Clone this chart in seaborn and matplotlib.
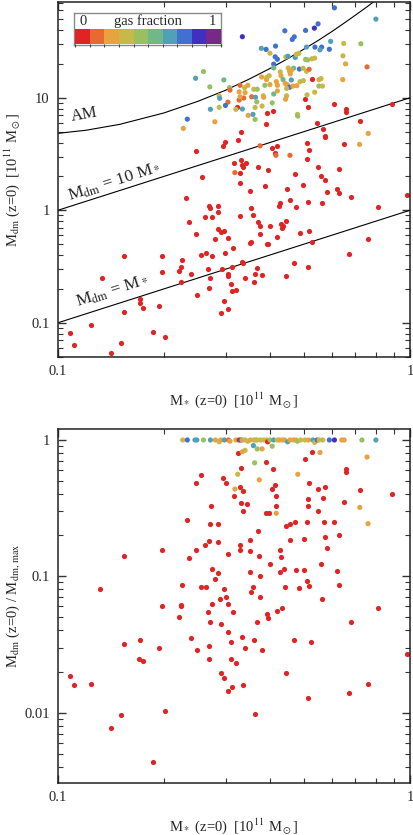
import numpy as np
import pandas as pd
import seaborn as sns
import matplotlib
matplotlib.use("Agg")
import matplotlib.pyplot as plt
from matplotlib.colors import ListedColormap, BoundaryNorm
from matplotlib.ticker import LogLocator, NullFormatter, FixedLocator, FixedFormatter

# ---- colour scale (gas fraction, 10 bins) ----
gas_colors = ["#e02424", "#e86a30", "#e8a23e", "#c8b848", "#98c060",
              "#70b888", "#50a0b8", "#4070d0", "#4030c0", "#782888"]

# ---- top panel: gas-rich / coloured galaxies ----
mstar_top = [0.61, 0.80, 0.334, 0.441, 0.505, 0.548, 0.535, 0.469, 0.463, 0.595,
             0.648, 0.725, 0.378, 0.39, 0.415, 0.40, 0.508, 0.537, 0.561, 0.555,
             0.59, 0.414, 0.42, 0.444, 0.45, 0.472, 0.483, 0.475, 0.505, 0.512,
             0.526, 0.536, 0.645, 0.656, 0.755, 0.41, 0.41, 0.259, 0.296, 0.27,
             0.428, 0.451, 0.467, 0.485, 0.497, 0.508, 0.517, 0.455, 0.46, 0.457,
             0.379, 0.391, 0.392, 0.398, 0.43, 0.436, 0.417, 0.42, 0.46, 0.487,
             0.498, 0.552, 0.559, 0.644, 0.346, 0.329, 0.307, 0.308, 0.442, 0.448,
             0.455, 0.465, 0.477, 0.446, 0.40, 0.42, 0.36, 0.368, 0.327, 0.34,
             0.339, 0.387, 0.551, 0.564, 0.536, 0.51, 0.383, 0.384, 0.41, 0.446,
             0.443, 0.355, 0.364, 0.337, 0.287, 0.288, 0.327, 0.329, 0.367, 0.38,
             0.304, 0.299, 0.287, 0.271, 0.334, 0.32, 0.363, 0.406, 0.347, 0.358,
             0.363, 0.479, 0.48, 0.279, 0.233, 0.227, 0.246, 0.719, 0.761, 0.375,
             0.416, 0.456, 0.318]
mdm_top = [63, 50, 34.9, 39.4, 39.7, 45.4, 41.6, 34.8, 33.0, 31.7,
           30.4, 30.2, 27.5, 26.9, 28.8, 24.9, 28.2, 28.2, 28.2, 26.7,
           27.0, 23.1, 22.0, 23.1, 23.4, 22.8, 24.8, 24.3, 21.9, 21.7,
           22.2, 22.5, 23.6, 20.0, 18.8, 19.9, 18.4, 17.1, 14.4, 12.5,
           17.0, 18.4, 18.3, 18.0, 18.3, 17.2, 17.9, 17.2, 17.5, 16.3,
           15.3, 14.5, 15.2, 15.7, 15.7, 14.5, 13.9, 12.9, 14.4, 13.9,
           14.2, 14.5, 14.8, 14.5, 12.9, 12.9, 12.3, 11.7, 13.4, 13.1,
           12.4, 12.7, 12.8, 12.1, 13.1, 11.5, 11.9, 11.9, 11.3, 11.1,
           12.3, 12.9, 12.7, 12.7, 11.2, 10.6, 10.4, 10.1, 10.8, 10.4,
           9.7, 10.2, 10.1, 9.94, 10.4, 9.88, 9.54, 10.2, 9.2, 8.44,
           9.15, 8.54, 8.22, 7.9, 7.94, 7.89, 8.2, 9.0, 6.97, 7.11,
           6.42, 7.11, 6.87, 6.12, 6.45, 5.34, 14.9, 3.85, 4.82, 3.74,
           3.08, 3.08, 2.16]
fgas_top = [0.75, 0.65, 0.85, 0.75, 0.75, 0.75, 0.85, 0.75, 0.75, 0.65,
            0.35, 0.45, 0.65, 0.75, 0.75, 0.35, 0.65, 0.75, 0.75, 0.65,
            0.75, 0.75, 0.75, 0.35, 0.65, 0.65, 0.35, 0.35, 0.45, 0.45,
            0.35, 0.35, 0.35, 0.25, 0.15, 0.75, 0.55, 0.45, 0.55, 0.45,
            0.35, 0.35, 0.55, 0.75, 0.35, 0.35, 0.15, 0.25, 0.25, 0.25,
            0.25, 0.25, 0.35, 0.35, 0.25, 0.55, 0.25, 0.25, 0.65, 0.35,
            0.35, 0.25, 0.35, 0.25, 0.25, 0.15, 0.45, 0.15, 0.25, 0.25,
            0.75, 0.25, 0.25, 0.35, 0.25, 0.25, 0.35, 0.45, 0.25, 0.25,
            0.35, 0.45, 0.45, 0.35, 0.35, 0.35, 0.35, 0.25, 0.55, 0.35,
            0.25, 0.15, 0.65, 0.15, 0.35, 0.65, 0.15, 0.25, 0.45, 0.35,
            0.15, 0.75, 0.35, 0.65, 0.65, 0.35, 0.35, 0.45, 0.25, 0.65,
            0.45, 0.35, 0.45, 0.25, 0.75, 0.25, 0.65, 0.25, 0.25, 0.15,
            0.15, 0.15, 0.15]

# ---- top panel: gas-poor galaxies (fraction < 0.1) ----
mstar_top_poor = [0.528, 0.502, 0.323, 0.512, 0.61, 0.393, 0.408, 0.66, 0.66, 0.891,
                  0.391, 0.545, 0.72, 0.567, 0.65, 0.98, 0.68, 0.331, 0.324, 0.294,
                  0.298, 0.247, 0.405, 0.418, 0.413, 0.51, 0.515, 0.51, 0.572, 0.574,
                  0.316, 0.334, 0.336, 0.343, 0.329, 0.332, 0.369, 0.396, 0.256, 0.329,
                  0.35, 0.387, 0.47, 0.498, 0.547, 0.559, 0.574, 0.627, 0.58, 0.62,
                  0.627, 0.446, 0.455, 0.473, 0.512, 0.564, 0.81, 0.231, 0.268, 0.27,
                  0.285, 0.285, 0.262, 0.274, 0.235, 0.329, 0.353, 0.359, 0.426, 0.424,
                  0.371, 0.375, 0.40, 0.43, 0.436, 0.434, 0.443, 0.284, 0.291, 0.297,
                  0.304, 0.247, 0.279, 0.315, 0.353, 0.351, 0.375, 0.396, 0.393, 0.42,
                  0.487, 0.515, 0.526, 0.76, 0.673, 0.467, 0.513, 0.445, 0.299, 0.263,
                  0.254, 0.274, 0.225, 0.223, 0.221, 0.198, 0.198, 0.154, 0.133, 0.238,
                  0.266, 0.27, 0.224, 0.292, 0.305, 0.304, 0.313, 0.334, 0.336, 0.367,
                  0.363, 0.38, 0.34, 0.36, 0.31, 0.269, 0.312, 0.32, 0.248, 0.297,
                  0.304, 0.29, 0.171, 0.171, 0.174, 0.193, 0.154, 0.124, 0.108, 0.111,
                  0.186, 0.202, 0.151, 0.141]
mdm_top_poor = [14.8, 9.8, 8.2, 8.22, 8.85, 7.36, 7.57, 7.89, 7.46, 8.8,
                5.8, 5.95, 6.24, 5.23, 3.88, 1.37, 1.30, 4.99, 4.2, 3.74,
                4.06, 3.38, 3.6, 3.72, 3.2, 3.93, 3.42, 2.85, 4.57, 4.44,
                2.61, 2.52, 2.41, 2.61, 2.16, 2.8, 2.41, 2.27, 1.97, 1.76,
                1.48, 1.64, 2.08, 1.68, 2.41, 2.03, 1.86, 2.32, 1.44, 1.53,
                1.43, 1.55, 1.24, 1.07, 1.18, 1.17, 1.06, 1.29, 1.09, 1.05,
                1.09, 0.97, 0.876, 0.864, 0.78, 0.888, 1.05, 0.91, 1.15, 1.1,
                0.79, 0.73, 0.72, 0.75, 0.73, 0.70, 0.81, 0.68, 0.64, 0.66,
                0.57, 0.61, 0.55, 0.46, 0.52, 0.51, 0.61, 0.50, 0.50, 0.575,
                0.63, 0.65, 0.52, 0.56, 0.405, 0.34, 0.31, 0.26, 0.42, 0.42,
                0.40, 0.39, 0.36, 0.31, 0.29, 0.39, 0.28, 0.39, 0.25, 0.27,
                0.30, 0.25, 0.23, 0.30, 0.27, 0.26, 0.315, 0.35, 0.34, 0.305,
                0.27, 0.268, 0.25, 0.23, 0.22, 0.205, 0.19, 0.195, 0.177, 0.155,
                0.133, 0.122, 0.164, 0.15, 0.135, 0.14, 0.125, 0.095, 0.081, 0.064,
                0.082, 0.074, 0.066, 0.054]

# abundance-matching relation and reference lines
am_mstar = [0.1, 0.12, 0.15, 0.2, 0.25, 0.3, 0.35, 0.4, 0.45, 0.5, 0.55, 0.6, 0.65, 0.7, 0.75, 0.8]
am_mdm = [4.83, 5.14, 5.81, 7.33, 9.31, 11.7, 14.7, 18.2, 22.3, 27.1, 32.5, 38.8, 46.1, 54.3, 63.4, 73.8]
ref_mstar = [0.1, 1.0]
one_to_one = [0.1, 1.0]
ten_to_one = [1.0, 10.0]

# ---- bottom panel: coloured galaxies ----
mstar_bot = [0.226, 0.233, 0.245, 0.248, 0.259, 0.271, 0.28, 0.287, 0.29, 0.297,
             0.305, 0.308, 0.32, 0.327, 0.331, 0.334, 0.34, 0.346, 0.352, 0.36,
             0.364, 0.368, 0.376, 0.384, 0.392, 0.394, 0.40, 0.41, 0.42, 0.426,
             0.434, 0.44, 0.449, 0.456, 0.466, 0.474, 0.479, 0.489, 0.503, 0.515,
             0.53, 0.536, 0.545, 0.552, 0.565, 0.59, 0.61, 0.64, 0.65, 0.73,
             0.80, 0.334, 0.34, 0.359, 0.368, 0.38, 0.406, 0.362, 0.555, 0.755,
             0.324, 0.373, 0.48, 0.318, 0.72, 0.417, 0.76]
ratio_bot = [1.0, 1.0, 1.0, 1.0, 1.0, 1.0, 1.0, 0.97, 1.0, 1.0,
             1.0, 0.98, 1.0, 1.0, 1.0, 1.0, 1.0, 0.98, 1.0, 1.0,
             1.0, 1.0, 1.0, 1.0, 1.0, 0.97, 1.0, 1.0, 1.0, 1.0,
             1.0, 1.0, 0.97, 1.0, 1.0, 1.0, 0.98, 1.0, 1.0, 1.0,
             1.0, 0.96, 1.0, 1.0, 1.0, 1.0, 1.0, 1.0, 1.0, 1.0,
             1.0, 0.82, 0.84, 0.91, 0.86, 0.86, 0.90, 0.68, 0.81, 0.75,
             0.56, 0.51, 0.56, 0.436, 0.32, 0.29, 0.243]
fgas_bot = [0.35, 0.75, 0.65, 0.65, 0.45, 0.65, 0.25, 0.35, 0.25, 0.65,
            0.15, 0.25, 0.35, 0.05, 0.75, 0.25, 0.35, 0.35, 0.25, 0.35,
            0.35, 0.35, 0.35, 0.35, 0.35, 0.05, 0.45, 0.65, 0.35, 0.25,
            0.25, 0.25, 0.65, 0.25, 0.25, 0.25, 0.45, 0.35, 0.35, 0.25,
            0.65, 0.35, 0.75, 0.35, 0.35, 0.75, 0.85, 0.25, 0.25, 0.45,
            0.65, 0.25, 0.35, 0.65, 0.45, 0.25, 0.45, 0.45, 0.25, 0.25,
            0.35, 0.25, 0.25, 0.25, 0.25, 0.25, 0.25]

# ---- bottom panel: gas-poor galaxies ----
mstar_bot_poor = [0.324, 0.391, 0.502, 0.527, 0.331, 0.407, 0.66, 0.66, 0.255, 0.294,
                  0.247, 0.30, 0.329, 0.335, 0.316, 0.413, 0.406, 0.517, 0.547, 0.572,
                  0.72, 0.89, 0.415, 0.513, 0.565, 0.332, 0.344, 0.336, 0.272, 0.417,
                  0.512, 0.65, 0.547, 0.391, 0.397, 0.232, 0.285, 0.27, 0.445, 0.456,
                  0.47, 0.51, 0.57, 0.61, 0.369, 0.50, 0.574, 0.63, 0.268, 0.285,
                  0.262, 0.351, 0.456, 0.198, 0.154, 0.247, 0.235, 0.329, 0.329, 0.304,
                  0.352, 0.372, 0.426, 0.429, 0.40, 0.58, 0.559, 0.274, 0.285, 0.279,
                  0.35, 0.375, 0.427, 0.44, 0.473, 0.50, 0.51, 0.62, 0.225, 0.132,
                  0.254, 0.263, 0.297, 0.30, 0.289, 0.304, 0.358, 0.354, 0.375, 0.442,
                  0.485, 0.515, 0.627, 0.564, 0.81, 0.198, 0.223, 0.223, 0.266, 0.314,
                  0.42, 0.434, 0.393, 0.396, 0.22, 0.27, 0.367, 0.68, 0.274, 0.291,
                  0.305, 0.31, 0.32, 0.31, 0.29, 0.296, 0.305, 0.312, 0.333, 0.34,
                  0.335, 0.36, 0.38, 0.362, 0.444, 0.469, 0.525, 0.512, 0.673, 0.76,
                  0.98, 0.269, 0.269, 0.238, 0.248, 0.193, 0.171, 0.154, 0.17, 0.174,
                  0.108, 0.111, 0.124, 0.151, 0.141, 0.202, 0.186]
ratio_bot_poor = [0.80, 0.69, 0.72, 0.81, 0.62, 0.61, 0.61, 0.58, 0.55, 0.53,
                  0.486, 0.486, 0.45, 0.42, 0.39, 0.47, 0.436, 0.484, 0.437, 0.45,
                  0.427, 0.40, 0.39, 0.37, 0.375, 0.343, 0.34, 0.30, 0.33, 0.33,
                  0.33, 0.35, 0.30, 0.29, 0.29, 0.26, 0.243, 0.24, 0.234, 0.242,
                  0.25, 0.25, 0.25, 0.25, 0.215, 0.188, 0.195, 0.20, 0.18, 0.177,
                  0.17, 0.183, 0.183, 0.157, 0.142, 0.155, 0.135, 0.17, 0.156, 0.146,
                  0.153, 0.141, 0.157, 0.138, 0.122, 0.16, 0.122, 0.114, 0.105, 0.095,
                  0.107, 0.10, 0.107, 0.113, 0.112, 0.112, 0.093, 0.109, 0.086, 0.081,
                  0.084, 0.084, 0.08, 0.071, 0.068, 0.063, 0.083, 0.077, 0.07, 0.084,
                  0.082, 0.085, 0.087, 0.068, 0.058, 0.06, 0.062, 0.06, 0.055, 0.055,
                  0.056, 0.058, 0.053, 0.049, 0.05, 0.046, 0.046, 0.046, 0.063, 0.045,
                  0.039, 0.033, 0.023, 0.0245, 0.0195, 0.018, 0.0145, 0.0155, 0.036, 0.030,
                  0.016, 0.034, 0.029, 0.0098, 0.0195, 0.034, 0.033, 0.0128, 0.0138, 0.0163,
                  0.027, 0.031, 0.0245, 0.035, 0.029, 0.030, 0.034, 0.032, 0.0245, 0.024,
                  0.0185, 0.016, 0.0163, 0.0096, 0.0077, 0.0102, 0.0043]

top = pd.DataFrame({"mstar": mstar_top, "mdm": mdm_top, "fgas": fgas_top})
bot = pd.DataFrame({"mstar": mstar_bot, "ratio": ratio_bot, "fgas": fgas_bot})

sns.set_style("ticks")
plt.rcParams["font.family"] = ["Liberation Serif", "DejaVu Serif"]
plt.rcParams["mathtext.fontset"] = "stix"
plt.rcParams["font.size"] = 10.5

cmap = ListedColormap(gas_colors)
norm = BoundaryNorm(np.linspace(0, 1, 11), 10)

fig = plt.figure(figsize=(4.14, 8.35), dpi=100)
ax1 = fig.add_axes([58 / 414, 1 - 357 / 835, 352 / 414, 355 / 835])
ax2 = fig.add_axes([58 / 414, 1 - 783 / 835, 352 / 414, 354 / 835])

pt = dict(s=14, linewidth=0, legend=False)

# top panel
sns.lineplot(x=am_mstar, y=am_mdm, color="black", lw=0.8, ax=ax1, sort=False, zorder=1)
sns.lineplot(x=ref_mstar, y=ten_to_one, color="black", lw=0.8, ax=ax1, zorder=1)
sns.lineplot(x=ref_mstar, y=one_to_one, color="black", lw=0.8, ax=ax1, zorder=1)
sns.scatterplot(x=mstar_top_poor, y=mdm_top_poor, color=gas_colors[0], ax=ax1, zorder=2, **pt)
sns.scatterplot(data=top, x="mstar", y="mdm", hue="fgas", palette=cmap, hue_norm=norm,
                ax=ax1, zorder=3, **pt)

# bottom panel
sns.scatterplot(x=mstar_bot_poor, y=ratio_bot_poor, color=gas_colors[0], ax=ax2, zorder=2, **pt)
sns.scatterplot(data=bot, x="mstar", y="ratio", hue="fgas", palette=cmap, hue_norm=norm,
                ax=ax2, zorder=3, **pt)

for ax in (ax1, ax2):
    ax.set_xscale("log")
    ax.set_yscale("log")
    ax.set_xlim(0.1, 1.0)
    ax.xaxis.set_major_locator(FixedLocator([0.1, 1.0]))
    ax.xaxis.set_major_formatter(FixedFormatter(["0.1", "1"]))
    ax.xaxis.set_minor_locator(LogLocator(base=10, subs=np.arange(2, 10)))
    ax.xaxis.set_minor_formatter(NullFormatter())
    ax.yaxis.set_minor_locator(LogLocator(base=10, subs=np.arange(2, 10), numticks=20))
    ax.yaxis.set_minor_formatter(NullFormatter())
    ax.tick_params(which="both", direction="in", top=True, right=True,
                   labelsize=10.5, color="#333333", pad=6)
    ax.tick_params(which="major", length=6, width=1.0)
    ax.tick_params(which="minor", length=3.5, width=0.8)
    for sp in ax.spines.values():
        sp.set_linewidth(1.1)
        sp.set_color("#222222")
    ax.set_xlabel(r"M$_*$ (z=0)  [10$^{11}$ M$_\odot$]", fontsize=10.5)
    ax.xaxis.set_label_coords(0.5, -0.095)

ax1.set_ylim(0.0496, 71)
ax1.yaxis.set_major_locator(FixedLocator([0.1, 1, 10]))
ax1.yaxis.set_major_formatter(FixedFormatter(["0.1", "1", "10"]))
ax1.set_ylabel(r"M$_{\rm dm}$ (z=0)  [10$^{11}$ M$_\odot$]", fontsize=10.5)
ax1.yaxis.set_label_coords(-0.102, 0.5)

ax2.set_ylim(0.00304, 1.204)
ax2.yaxis.set_major_locator(FixedLocator([0.01, 0.1, 1]))
ax2.yaxis.set_major_formatter(FixedFormatter(["0.01", "0.1", "1"]))
ax2.set_ylabel(r"M$_{\rm dm}$ (z=0) / M$_{\rm dm,\, max}$", fontsize=10.5)
ax2.yaxis.set_label_coords(-0.102, 0.5)

# line annotations
ax1.text(0.119, 7.0, "AM", rotation=10, ha="center", va="center", fontsize=12)
ax1.text(0.145, 1.78, r"M$_{\rm dm}$ = 10 M$_*$", rotation=17.7, ha="center",
         va="center", fontsize=12.5)
ax1.text(0.143, 0.19, r"M$_{\rm dm}$ = M$_*$", rotation=17.7, ha="center",
         va="center", fontsize=12.5)

# gas-fraction colour key
kax = fig.add_axes([74 / 414, 1 - 44.5 / 835, 147 / 414, 31.5 / 835])
kax.set_xticks([])
kax.set_yticks([])
kax.set_facecolor("white")
for sp in kax.spines.values():
    sp.set_color("#8a8a8a")
    sp.set_linewidth(1.0)
kax.text(0.06, 0.74, "0", ha="center", va="center", fontsize=10.5, transform=kax.transAxes)
kax.text(0.5, 0.74, "gas fraction", ha="center", va="center", fontsize=10.5,
         transform=kax.transAxes)
kax.text(0.94, 0.74, "1", ha="center", va="center", fontsize=10.5, transform=kax.transAxes)
cax = fig.add_axes([75.5 / 414, 1 - 44 / 835, 145 / 414, 15 / 835])
cb = matplotlib.colorbar.ColorbarBase(cax, cmap=cmap, norm=norm, orientation="horizontal")
cb.set_ticks([])
cb.outline.set_visible(False)

fig.savefig("out.png", dpi=100)
